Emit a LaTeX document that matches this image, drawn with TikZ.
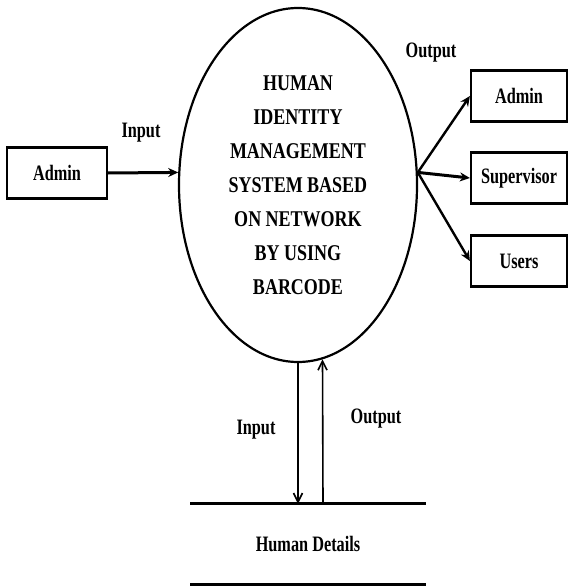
\documentclass[tikz,border=0pt]{standalone}
\usepackage{fontspec}
\setmainfont{Liberation Serif}[FakeStretch=0.8]
\newfontfamily\labelfont{Liberation Serif}[FakeStretch=0.74]
\usetikzlibrary{positioning, arrows.meta, shapes.geometric}

\begin{document}
\begin{tikzpicture}[
    x=1pt, y=-1pt,
    >={Stealth[length=10pt, width=9pt]},
    every node/.style={font=\labelfont\fontsize{22}{24}\selectfont\bfseries},
    entity/.style={
        draw,
        line width=2.2pt,
        minimum height=51pt,
        inner sep=2pt,
    },
    flow/.style={->, line width=2.4pt},
    thinflow/.style={-{Straight Barb[length=9pt, width=9pt]}, line width=1.6pt},
]
\useasboundingbox (0,0) rectangle (569,588);

% --- Process ---
\node[ellipse, draw, line width=2.2pt, minimum width=238pt, minimum height=354pt,
      inner sep=0pt, align=center,
      font=\rmfamily\fontsize{22.5}{34}\selectfont\bfseries] (sys) at (298,185)
    {HUMAN\\IDENTITY\\MANAGEMENT\\SYSTEM BASED\\ON NETWORK\\BY USING\\BARCODE};

% --- Entities ---
\node[entity, minimum width=100pt] (admin) at (57,173) {Admin};
\node[entity, minimum width=96pt]  (outadmin) at (519,96)  {Admin};
\node[entity, minimum width=96pt]  (supervisor) at (519,178) {Supervisor};
\node[entity, minimum width=96pt]  (users) at (519,261) {Users};

% --- Data store ---
\node[minimum width=235pt, minimum height=80pt] (store) at (308,544) {Human Details};
\draw[line width=3pt] (store.north west) -- (store.north east);
\draw[line width=3pt] (store.south west) -- (store.south east);

% --- Flows ---
\draw[flow, line width=3pt] (admin.east) -- (sys.174);
\draw[flow] (sys.6) -- (outadmin.west);
\draw[flow, line width=3pt] (sys.6) -- (supervisor.west);
\draw[flow] (sys.6) -- (users.west);
\coordinate (outx) at (323,0);
\draw[thinflow] (sys.south) -- (sys.south |- store.north);
\draw[thinflow] (store.north -| outx) -- (sys.-82);

% --- Labels ---
\node (lin)   at (141,133) {Input};
\node (lout)  at (431,53)  {Output};
\node (din)   at (256,430) {Input};
\node (dout)  at (376,419) {Output};

\end{tikzpicture}
\end{document}
